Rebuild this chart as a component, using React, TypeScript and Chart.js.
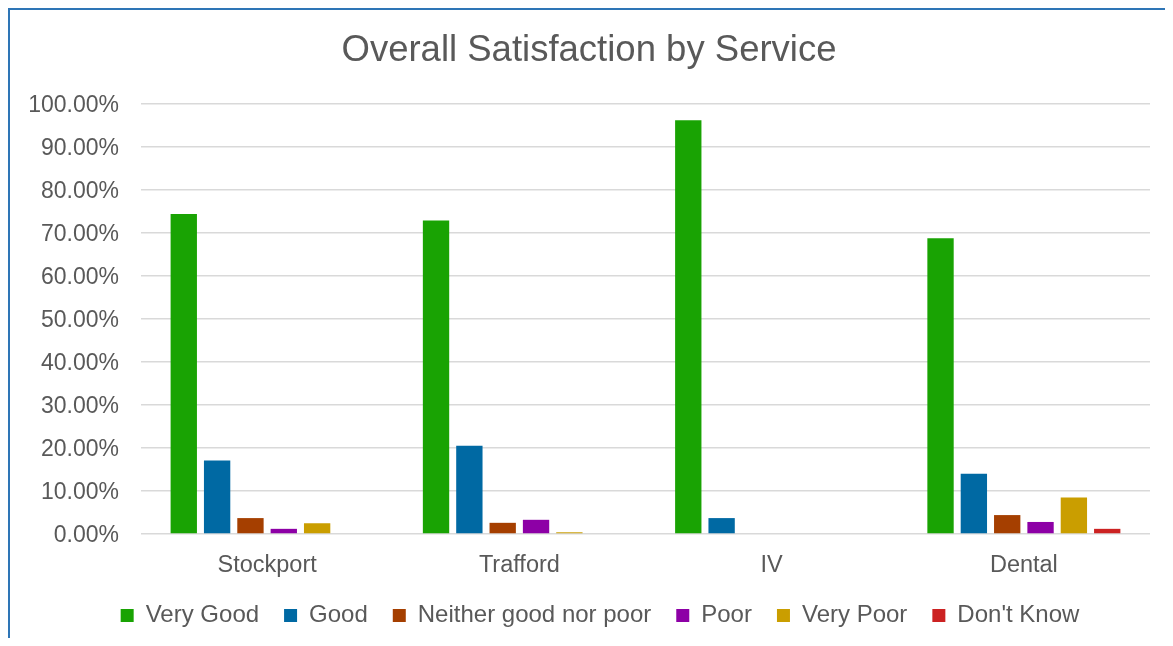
import React, { useEffect, useRef } from "react";
import { Chart, registerables } from "chart.js";

Chart.register(...registerables);

const categories = ["Stockport", "Trafford", "IV", "Dental"];
const veryGood = [74.4, 72.9, 96.2, 68.8];
const good = [17.1, 20.5, 3.7, 14.0];
const neither = [3.7, 2.6, 0, 4.4];
const poor = [1.2, 3.3, 0, 2.8];
const veryPoor = [2.5, 0.4, 0, 8.5];
const dontKnow = [0, 0, 0, 1.2];

const seriesNames = ["Very Good", "Good", "Neither good nor poor", "Poor", "Very Poor", "Don't Know"];
const seriesColors = ["#19A303", "#0069A3", "#A53F00", "#8D00A6", "#CA9E00", "#CC2222"];
const seriesValues = [veryGood, good, neither, poor, veryPoor, dontKnow];

const FONT = "'Liberation Sans', Arial, sans-serif";
const TEXT = "#595959";

const legendShift = {
  id: "legendShift",
  afterLayout(chart: any) {
    const lg = chart.legend;
    if (lg) {
      lg.left += 11;
      lg.right += 11;
      lg.top -= 2;
      lg.bottom -= 2;
    }
  },
};

export default function App() {
  const ref = useRef<HTMLCanvasElement | null>(null);

  useEffect(() => {
    document.documentElement.style.overflow = "hidden";
    const canvas = ref.current;
    if (!canvas) return;
    const chart = new Chart(canvas, {
      type: "bar",
      data: {
        labels: categories,
        datasets: seriesNames.map((name, i) => ({
          label: name,
          data: seriesValues[i],
          backgroundColor: seriesColors[i],
          borderWidth: 0,
          categoryPercentage: 0.793,
          barPercentage: 0.79,
        })),
      },
      plugins: [legendShift],
      options: {
        animation: false,
        responsive: false,
        maintainAspectRatio: false,
        layout: { padding: { left: 18, right: 23, top: 0, bottom: -1.5 } },
        plugins: {
          tooltip: { enabled: false },
          title: {
            display: true,
            text: "Overall Satisfaction by Service",
            color: TEXT,
            font: { family: FONT, size: 36.5, weight: "normal", lineHeight: 1.2 },
            padding: { top: 18.8, bottom: 31.4 },
          },
          legend: {
            display: true,
            position: "bottom",
            labels: {
              color: TEXT,
              font: { family: FONT, size: 24, lineHeight: 1.2 },
              boxWidth: 13,
              boxHeight: 13,
              padding: 25,
            },
          },
        },
        scales: {
          x: {
            grid: { display: false, drawTicks: false },
            border: { display: false },
            ticks: {
              color: TEXT,
              font: { family: FONT, size: 23.5, lineHeight: 1.2 },
              padding: 17,
              maxRotation: 0,
            },
            afterFit(scale: any) {
              scale.height = 46.5;
            },
          },
          y: {
            min: 0,
            max: 100,
            border: { display: false },
            grid: { color: "#D9D9D9", lineWidth: 1.5, drawTicks: false },
            ticks: {
              stepSize: 10,
              color: TEXT,
              font: { family: FONT, size: 23, lineHeight: 1.2 },
              padding: 22,
              labelOffset: 2,
              callback: (v: any) => Number(v).toFixed(2) + "%",
            },
            afterFit(scale: any) {
              scale.width = 113;
            },
          },
        },
      },
    } as any);
    return () => chart.destroy();
  }, []);

  return (
    <div
      style={{
        width: 1165,
        height: 630,
        borderTop: "2px solid #2E75B6",
        borderLeft: "2px solid #2E75B6",
        boxSizing: "border-box",
        overflow: "hidden",
        background: "#fff",
      }}
    >
      <canvas ref={ref} width={1163} height={628} style={{ display: "block", width: 1163, height: 628 }} />
    </div>
  );
}
